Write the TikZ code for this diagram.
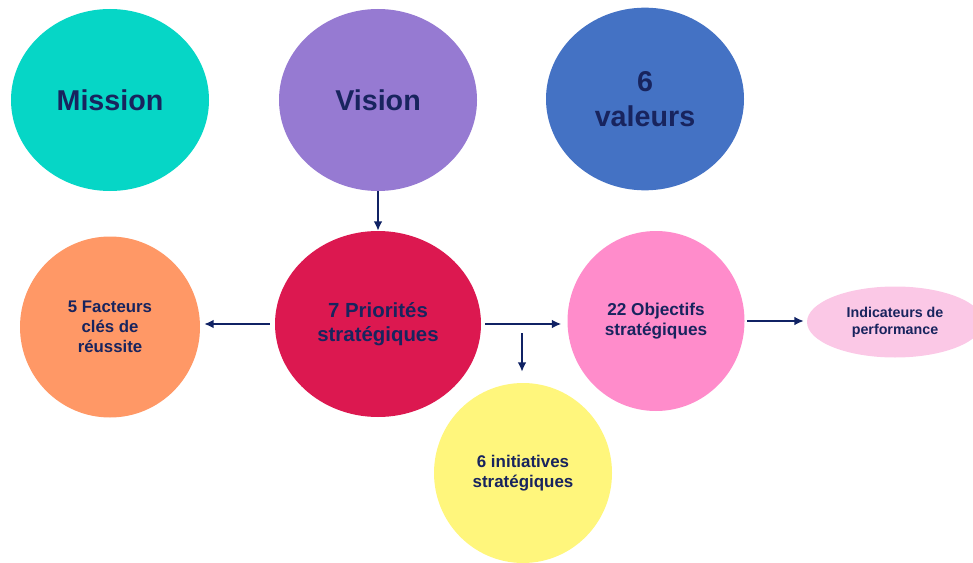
\documentclass[tikz,border=0pt]{standalone}
\usepackage{fontspec}
\setmainfont{Liberation Sans}
\usetikzlibrary{shapes.geometric,arrows.meta}

\definecolor{navytext}{RGB}{24,36,94}
\definecolor{navyarrow}{RGB}{16,34,100}
\definecolor{turquoise}{RGB}{6,214,198}
\definecolor{lavande}{RGB}{150,122,210}
\definecolor{bleuval}{RGB}{68,114,196}
\definecolor{orangefc}{RGB}{255,152,102}
\definecolor{cramoisi}{RGB}{220,24,80}
\definecolor{roseobj}{RGB}{255,140,203}
\definecolor{roseind}{RGB}{251,200,230}
\definecolor{jaune}{RGB}{255,246,124}

\begin{document}
\begin{tikzpicture}[x=0.75pt, y=-0.75pt,
        bulle/.style={ellipse, draw=none, inner sep=0pt, align=center, text=navytext},
        fleche/.style={-{Latex[length=7pt,width=6.5pt]}, line width=1.3pt, draw=navyarrow}]
        \useasboundingbox (0,0) rectangle (973,563);

        \node[bulle, fill=turquoise, minimum width=148.5pt, minimum height=136.5pt, font=\bfseries\fontsize{21.5}{26}\selectfont] (mission) at (110,100) {Mission};
        \node[bulle, fill=lavande, minimum width=148.5pt, minimum height=136.5pt, font=\bfseries\fontsize{21.5}{26}\selectfont] (vision) at (378,100) {Vision};
        \node[bulle, fill=bleuval, minimum width=148.5pt, minimum height=137pt, font=\bfseries\fontsize{21.5}{26}\selectfont] (valeurs) at (645,99) {6\\valeurs};

        \node[bulle, fill=orangefc, minimum width=135pt, minimum height=135.75pt, font=\bfseries\fontsize{12.6}{15}\selectfont] (facteurs) at (110,327) {5 Facteurs\\clés de\\réussite};
        \node[bulle, fill=cramoisi, minimum width=154.5pt, minimum height=139.5pt, font=\bfseries\fontsize{15.3}{18}\selectfont] (priorites) at (378,324) {7 Priorités\\stratégiques};
        \node[bulle, fill=roseobj, minimum width=132.75pt, minimum height=135pt, font=\bfseries\fontsize{12.9}{14.5}\selectfont] (objectifs) at (656,321) {22 Objectifs\\stratégiques};
        \node[bulle, fill=roseind, minimum width=132pt, minimum height=53.25pt, font=\bfseries\fontsize{10.7}{12.8}\selectfont] (indicateurs) at (895,322) {Indicateurs de\\performance};
        \node[bulle, fill=jaune, minimum width=133.5pt, minimum height=135pt, font=\bfseries\fontsize{12.7}{15.5}\selectfont] (initiatives) at (523,473) {6 initiatives\\stratégiques};

        % arrows between the bubbles
        \coordinate (depart) at (522,333);
        \draw[fleche] (vision) -- (priorites);
        \draw[fleche, shorten <=3.75pt, shorten >=3pt] (priorites.west) -- (priorites.west -| facteurs.east);
        \draw[fleche, shorten <=3pt, shorten >=4.5pt] (priorites.east) -- (priorites.east -| objectifs.west);
        \draw[fleche, shorten >=8.25pt] (depart) -- (depart |- initiatives.north);
        \draw[fleche, shorten <=1.5pt, shorten >=2.25pt] (objectifs.east) -- (objectifs.east -| indicateurs.west);
    \end{tikzpicture}
\end{document}
